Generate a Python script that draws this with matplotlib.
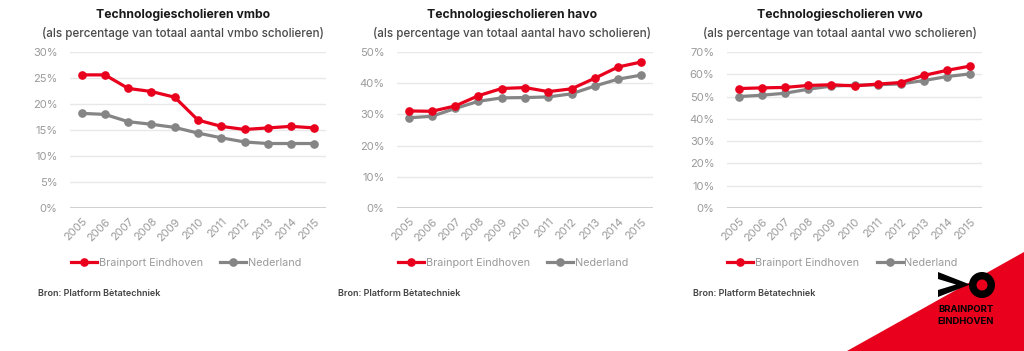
import matplotlib
matplotlib.use("Agg")
import matplotlib.pyplot as plt
from matplotlib.patches import Polygon, Circle
from matplotlib.ticker import FuncFormatter

years = ["2005", "2006", "2007", "2008", "2009", "2010", "2011", "2012", "2013", "2014", "2015"]

vmbo_brainport = [25.6, 25.6, 23.0, 22.4, 21.3, 16.9, 15.7, 15.1, 15.4, 15.7, 15.4]
vmbo_nederland = [18.2, 18.0, 16.6, 16.1, 15.5, 14.4, 13.5, 12.7, 12.4, 12.4, 12.4]

havo_brainport = [31.1, 31.0, 32.7, 36.0, 38.3, 38.6, 37.3, 38.2, 41.6, 45.2, 46.8]
havo_nederland = [28.9, 29.4, 31.9, 34.2, 35.3, 35.4, 35.6, 36.6, 39.1, 41.3, 42.6]

vwo_brainport = [53.6, 53.9, 54.1, 55.0, 55.3, 54.8, 55.6, 56.3, 59.5, 61.8, 63.7]
vwo_nederland = [50.0, 50.6, 51.5, 53.3, 54.7, 55.1, 55.3, 55.7, 57.2, 59.0, 60.2]

titles = ["Technologiescholieren vmbo", "Technologiescholieren havo", "Technologiescholieren vwo"]
subtitles = ["(als percentage van totaal aantal vmbo scholieren)",
             "(als percentage van totaal aantal havo scholieren)",
             "(als percentage van totaal aantal vwo scholieren)"]
yticks_list = [[0, 5, 10, 15, 20, 25, 30],
               [0, 10, 20, 30, 40, 50],
               [0, 10, 20, 30, 40, 50, 60, 70]]
series_names = ["Brainport Eindhoven", "Nederland"]
source_text = "Bron: Platform Bètatechniek"

data = [(vmbo_brainport, vmbo_nederland),
        (havo_brainport, havo_nederland),
        (vwo_brainport, vwo_nederland)]

plt.rcParams['font.family'] = ['Inter', 'DejaVu Sans']

W, H = 1024, 351
fig = plt.figure(figsize=(W / 100, H / 100), dpi=100)

RED = "#e8001c"
GREY = "#858585"

def px_axes(l, r, top, bottom):
    return fig.add_axes([l / W, 1 - bottom / H, (r - l) / W, (bottom - top) / H])

panels = [(70, 326), (397, 653), (727, 982)]
title_cx = [183, 512, 840]
sources_x = [38, 338, 693]

# Red triangle background (drawn first)
bg = fig.add_axes([0, 0, 1, 1], zorder=-1)
bg.set_xlim(0, W)
bg.set_ylim(H, 0)
bg.axis("off")
bg.add_patch(Polygon([[847, 351], [1024, 252], [1024, 351]], closed=True, color=RED, lw=0))

for i, (l, r) in enumerate(panels):
    ax = px_axes(l, r, 52, 208)
    x = list(range(len(years)))
    b, n = data[i]
    ax.plot(x, n, color=GREY, lw=2.3, marker="o", ms=5.2, zorder=3, label=series_names[1])
    ax.plot(x, b, color=RED, lw=2.3, marker="o", ms=5.2, zorder=4, label=series_names[0])
    ax.set_xlim(-0.5, len(years) - 0.5)
    yt = yticks_list[i]
    ax.set_ylim(yt[0], yt[-1])
    ax.set_yticks(yt)
    ax.yaxis.set_major_formatter(FuncFormatter(lambda v, p: f"{int(v)}%"))
    ax.set_xticks(x)
    ax.set_xticklabels(years, rotation=45, ha="right", va="top", rotation_mode="anchor")
    for s in ax.spines.values():
        s.set_visible(False)
    ax.grid(axis="y", color="#e8e8e8", lw=1)
    ax.axhline(yt[0], color="#d0d0d0", lw=1.4, zorder=1)
    ax.set_axisbelow(True)
    ax.tick_params(axis="both", length=0, labelsize=8, labelcolor="#9a9a9a")
    ax.tick_params(axis="y", pad=9)
    ax.tick_params(axis="x", pad=6)
    cx = title_cx[i]
    fig.text(cx / W, 1 - 15 / H, titles[i], ha="center", va="center",
             fontsize=8.8, fontweight="bold", color="#1a1a1a")
    fig.text(cx / W, 1 - 34 / H, subtitles[i], ha="center", va="center",
             fontsize=8.4, fontweight="medium", color="#4a4a4a")
    handles, labels = ax.get_legend_handles_labels()
    pc = (l + r) / 2
    fig.legend(handles[::-1], labels[::-1], loc="center",
               bbox_to_anchor=((pc - 12) / W, 1 - 263 / H), ncol=2, frameon=False,
               fontsize=7.8, handlelength=2.4, handletextpad=0.15, columnspacing=1.6,
               labelcolor="#9a9a9a")
    fig.text(sources_x[i] / W, 1 - 293 / H, source_text, ha="left", va="center",
             fontsize=6.5, fontweight="semibold", color="#444444")

# Logo
bg.add_patch(Polygon([[938, 272], [970, 284.5], [938, 297], [938, 290], [956, 284.5], [938, 279]],
                     closed=True, color="black", lw=0))
bg.add_patch(Circle((982, 285), 13, color="black", lw=0))
bg.add_patch(Circle((982, 285), 5.5, color=RED, lw=0))
bg.text(966, 310, "BRAINPORT", ha="center", va="center", fontsize=6.8, fontweight="bold", color="black")
bg.text(966, 322, "EINDHOVEN", ha="center", va="center", fontsize=6.8, fontweight="bold", color="black")

fig.savefig("out.png", dpi=100)
